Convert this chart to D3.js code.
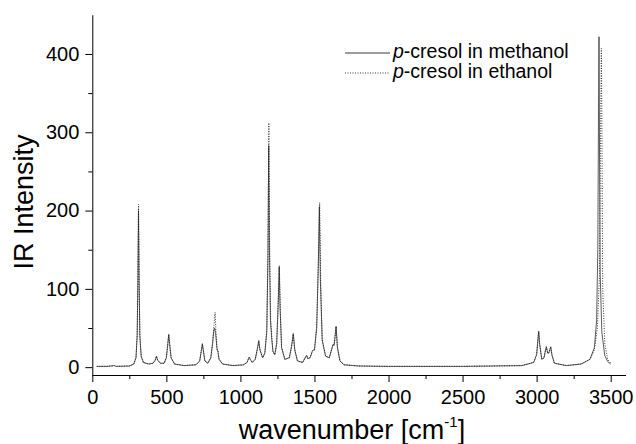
<!DOCTYPE html>
<html lang="en">
<head>
    <meta charset="UTF-8">
    <title>p-cresol IR spectra</title>
    <script src="https://d3js.org/d3.v7.min.js"></script>
    <style>
        body { margin: 0; background: #fff; }
        svg { display: block; }
        .axis text { font-family: Arial, "Liberation Sans", sans-serif; font-size: 20px; fill: #000; }
        .axis path, .axis line { stroke: #000; stroke-width: 1px; }
        .label { font-family: Arial, "Liberation Sans", sans-serif; fill: #000; }
        .legend { font-family: Arial, "Liberation Sans", sans-serif; font-size: 19.5px; fill: #000; }
    </style>
</head>
<body>
<svg width="636" height="444"></svg>
<script>
    // spectrum points: [wavenumber, IR intensity]
    const methanolSpectrum = [
        [30,1],[100,1],[150,2],[160,1],[250,1.5],[280,4],[295,12],[303,40],[308,110],[312,200],[316,110],[321,40],[330,14],[345,6],
        [380,4],[410,5],[425,9],[433,14],[441,9],[460,5],[485,5],[500,12],[510,30],[516,42],[522,30],[532,12],[555,4],[620,2],
        [700,3],[725,8],[737,22],[743,30],[749,22],[760,8],[780,5],[800,12],[812,30],[820,46],[826,50],[832,44],[842,24],[848,20],
        [856,10],[880,4],[950,2],[1020,3],[1045,6],[1055,11],[1060,13],[1066,10],[1080,6],[1100,10],[1115,24],[1124,34],[1132,22],
        [1150,12],[1165,18],[1178,45],[1186,140],[1191,283],[1196,150],[1203,60],[1212,35],[1220,20],[1232,16],[1245,30],[1255,80],
        [1262,128],[1268,75],[1278,25],[1300,10],[1330,12],[1345,26],[1357,43],[1367,22],[1385,8],[1420,6],[1440,13],[1447,15],
        [1455,11],[1470,12],[1485,20],[1492,22],[1500,22],[1515,50],[1526,130],[1533,205],[1540,110],[1552,35],[1575,14],[1600,12],
        [1615,22],[1625,29],[1633,28],[1646,52],[1655,25],[1672,8],[1700,3],[1800,1.5],[2000,1],[2500,1],[2900,2],[2980,6],
        [3000,16],[3010,38],[3014,46],[3020,30],[3035,10],[3050,12],[3060,22],[3066,26],[3074,18],[3082,18],[3095,26],[3104,15],
        [3120,5],[3200,2],[3300,4],[3360,10],[3390,25],[3405,60],[3413,150],[3418,330],[3421,422],[3424,300],[3429,120],[3440,45],
        [3460,15],[3480,7],[3500,4]
    ];
    const ethanolSpectrum = [
        [30,1],[100,1],[150,2],[160,1],[250,1.5],[280,4],[295,12],[303,42],[308,120],[312,208],[316,115],[321,42],[330,14],[345,6],
        [380,4],[410,5],[425,9],[433,14],[441,9],[460,5],[485,5],[500,12],[510,30],[516,41],[522,30],[532,12],[555,4],[620,2],
        [700,3],[725,8],[737,22],[743,29],[749,22],[760,8],[780,5],[800,12],[812,30],[822,55],[829,70],[835,45],[842,22],[848,21],
        [856,10],[880,4],[950,2],[1020,3],[1045,6],[1055,11],[1060,13],[1066,10],[1080,6],[1100,10],[1115,24],[1124,33],[1132,22],
        [1150,12],[1165,18],[1178,48],[1186,150],[1192,312],[1197,160],[1204,60],[1212,38],[1220,20],[1232,16],[1245,30],[1255,82],
        [1263,130],[1269,75],[1278,25],[1300,10],[1330,12],[1345,26],[1357,42],[1367,22],[1385,8],[1420,6],[1440,13],[1447,15],
        [1455,11],[1470,12],[1485,20],[1492,22],[1500,22],[1515,52],[1527,140],[1535,210],[1542,110],[1552,35],[1575,14],[1600,12],
        [1615,22],[1625,29],[1633,28],[1646,52],[1655,25],[1672,8],[1700,3],[1800,1.5],[2000,1],[2500,1],[2900,2],[2980,6],
        [3000,16],[3010,38],[3014,45],[3020,30],[3035,10],[3050,12],[3060,22],[3066,26],[3074,18],[3082,18],[3095,26],[3104,15],
        [3120,5],[3200,2],[3300,4],[3360,10],[3390,22],[3410,50],[3425,120],[3432,310],[3437,407],[3441,300],[3446,100],[3460,30],
        [3480,10],[3500,5]
    ];

    const xTicks = [0, 500, 1000, 1500, 2000, 2500, 3000, 3500];
    const xMinorTicks = [250, 750, 1250, 1750, 2250, 2750, 3250];
    const yTicks = [0, 100, 200, 300, 400];
    const yMinorTicks = [50, 150, 250, 350];
    const legendLabels = ["-cresol in methanol", "-cresol in ethanol"];

    const svg = d3.select("svg");
    const plotLeft = 92.3, plotRight = 625.5, plotTop = 14.8, plotBottom = 375;

    const x = d3.scaleLinear().domain([0, 3600]).range([plotLeft, plotRight]);
    const y = d3.scaleLinear().domain([-10, 450]).range([plotBottom, plotTop]);

    // minor ticks first, then the labelled axes
    svg.append("g").attr("class", "axis")
        .attr("transform", `translate(0,${plotBottom})`)
        .call(d3.axisBottom(x).tickValues(xMinorTicks).tickSize(4).tickFormat(""))
        .select(".domain").remove();
    svg.append("g").attr("class", "axis")
        .attr("transform", `translate(${plotLeft},0)`)
        .call(d3.axisLeft(y).tickValues(yMinorTicks).tickSize(4).tickFormat(""))
        .select(".domain").remove();

    const xAxis = svg.append("g").attr("class", "axis")
        .attr("transform", `translate(0,${plotBottom})`)
        .call(d3.axisBottom(x).tickValues(xTicks).tickSize(7).tickSizeOuter(0).tickPadding(8).tickFormat(d3.format("d")));
    xAxis.selectAll("text").attr("dy", "0.71em");

    svg.append("g").attr("class", "axis")
        .attr("transform", `translate(${plotLeft},0)`)
        .call(d3.axisLeft(y).tickValues(yTicks).tickSize(7).tickSizeOuter(0).tickPadding(6));

    // axis titles
    svg.append("text").attr("class", "label")
        .attr("transform", "translate(33,202) rotate(-90)")
        .attr("text-anchor", "middle")
        .style("font-size", "27px")
        .text("IR Intensity");

    const xl = svg.append("text").attr("class", "label")
        .attr("x", 352).attr("y", 439)
        .attr("text-anchor", "middle")
        .style("font-size", "27px");
    xl.append("tspan").text("wavenumber [cm");
    xl.append("tspan").attr("dy", -12).style("font-size", "15px").text("-1");
    xl.append("tspan").attr("dy", 12).text("]");

    const line = d3.line().x(d => x(d[0])).y(d => y(d[1]));

    svg.append("path").datum(methanolSpectrum)
        .attr("d", line)
        .attr("fill", "none")
        .attr("stroke", "#333")
        .attr("stroke-width", 0.8);

    svg.append("path").datum(ethanolSpectrum)
        .attr("d", line)
        .attr("fill", "none")
        .attr("stroke", "#222")
        .attr("stroke-width", 0.9)
        .attr("stroke-dasharray", "1,1.5");

    // legend
    const legendRows = [
        { y: 53, dash: null, text: legendLabels[0] },
        { y: 73, dash: "1,1.5", text: legendLabels[1] }
    ];
    legendRows.forEach(r => {
        svg.append("line")
            .attr("x1", 345).attr("x2", 390)
            .attr("y1", r.y).attr("y2", r.y)
            .attr("stroke", "#222")
            .attr("stroke-width", 0.9)
            .attr("stroke-dasharray", r.dash);
        const t = svg.append("text").attr("class", "legend")
            .attr("x", 393).attr("y", r.y + 5);
        t.append("tspan").style("font-style", "italic").text("p");
        t.append("tspan").text(r.text);
    });
</script>
</body>
</html>
